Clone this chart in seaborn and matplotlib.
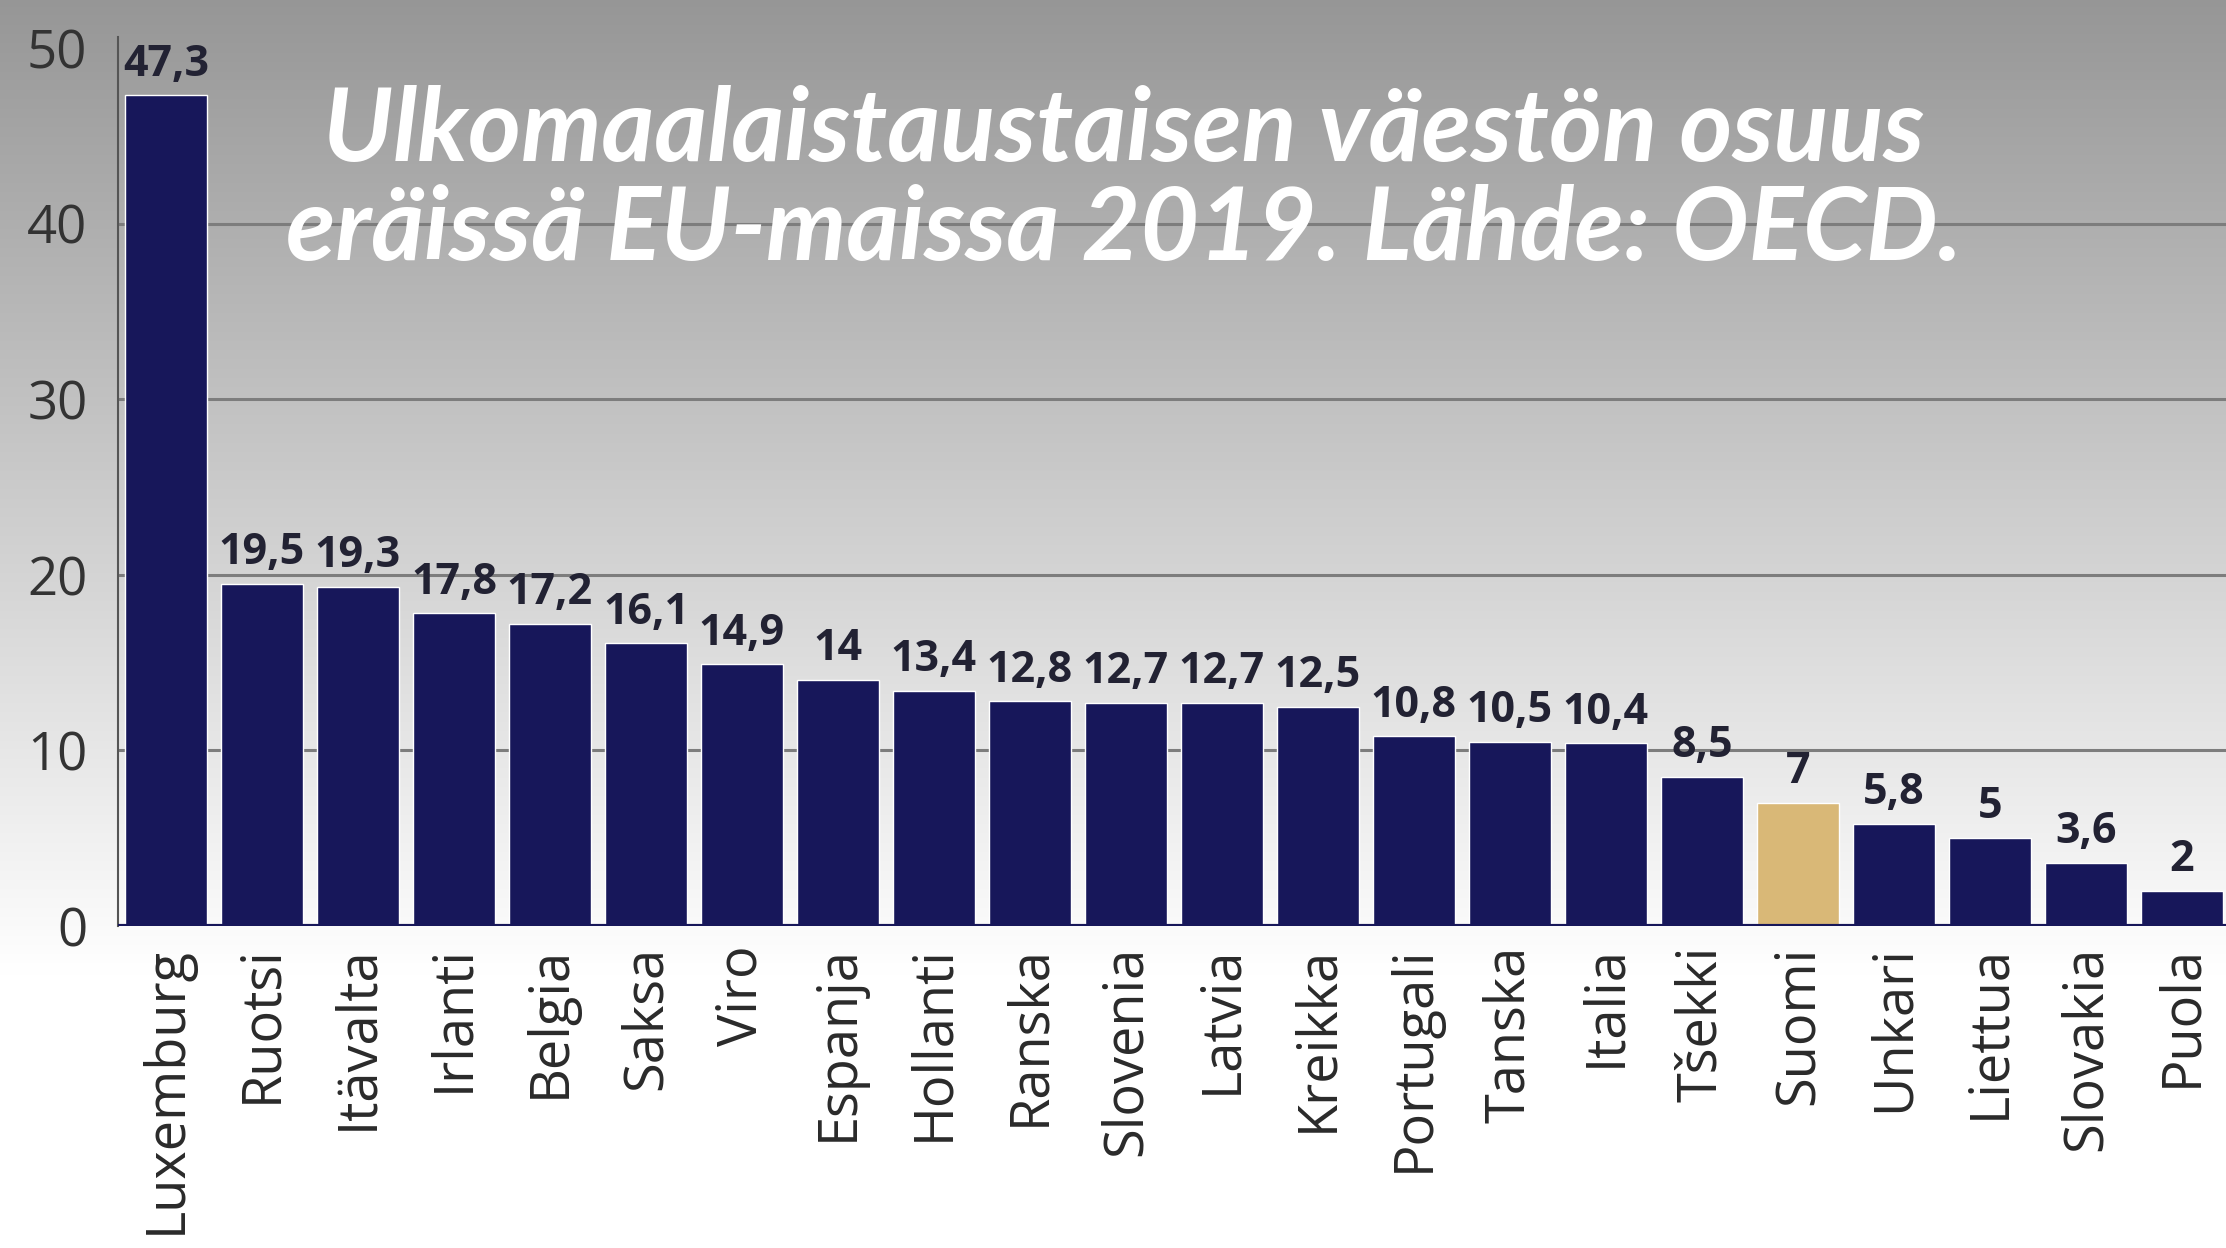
import numpy as np
import pandas as pd
import seaborn as sns
import matplotlib.pyplot as plt

# Data
countries = ['Luxemburg', 'Ruotsi', 'Itävalta', 'Irlanti', 'Belgia', 'Saksa', 'Viro',
             'Espanja', 'Hollanti', 'Ranska', 'Slovenia', 'Latvia', 'Kreikka', 'Portugali',
             'Tanska', 'Italia', 'Tšekki', 'Suomi', 'Unkari', 'Liettua', 'Slovakia', 'Puola']
shares = [47.3, 19.5, 19.3, 17.8, 17.2, 16.1, 14.9, 14, 13.4, 12.8, 12.7, 12.7, 12.5, 10.8,
          10.5, 10.4, 8.5, 7, 5.8, 5, 3.6, 2]
y_ticks = [0, 10, 20, 30, 40, 50]
highlight = 'Suomi'

navy = '#17175a'
tan = '#d9b877'

df = pd.DataFrame({'maa': countries, 'osuus': shares})
palette = {c: (tan if c == highlight else navy) for c in countries}

sns.set_style('white')
fig = plt.figure(figsize=(22.26, 12.48), dpi=100)

# gradient background (gray at top fading to white)
bg = fig.add_axes([0, 0, 1, 1], zorder=-10)
grad = np.clip(0.59 + 0.41 * np.linspace(0, 1, 500) / 0.78, 0, 1)
img = np.repeat(grad[:, None, None], 3, axis=2).repeat(4, axis=1)
bg.imshow(img, aspect='auto', extent=[0, 1, 0, 1], origin='upper')
bg.axis('off')

ax = fig.add_axes([0.053, 0.258, 0.947, 0.712])
ax.patch.set_alpha(0)

sns.barplot(data=df, x='maa', y='osuus', hue='maa', palette=palette, legend=False,
            width=0.85, edgecolor='white', linewidth=1, saturation=1, ax=ax, zorder=3)

ax.set_ylim(0, 50.6)
ax.set_xlim(-0.5, 21.46)
ax.set_yticks(y_ticks)
ax.set_yticklabels([str(t) for t in y_ticks], fontsize=38, color='#333333', family='Open Sans')
ax.tick_params(axis='y', length=0, pad=22)
ax.tick_params(axis='x', length=0, pad=14)
ax.set_xticks(range(len(countries)))
ax.set_xticklabels(countries, rotation=90, fontsize=39, color='#2a2a2a', family='Open Sans')
ax.set_xlabel('')
ax.set_ylabel('')

for t in y_ticks[1:-1]:
    ax.axhline(t, color='#7d7d7d', linewidth=2.2, zorder=1)
ax.axhline(0, color=navy, linewidth=3, zorder=4)

for side in ['top', 'right', 'bottom']:
    ax.spines[side].set_visible(False)
ax.spines['left'].set_color('#555555')
ax.spines['left'].set_linewidth(1.5)

for i, v in enumerate(shares):
    label = f'{v:g}'.replace('.', ',')
    ax.annotate(label, (i, v), xytext=(0, 7), textcoords='offset points',
                ha='center', va='bottom', fontsize=31, fontweight='bold',
                color='#222233', family='Open Sans')

fig.text(0.505, 0.895, 'Ulkomaalaistaustaisen väestön osuus',
         ha='center', va='center', color='white', fontsize=73,
         fontstyle='italic', fontweight='bold', family='Lato')
fig.text(0.505, 0.815, 'eräissä EU-maissa 2019. Lähde: OECD.',
         ha='center', va='center', color='white', fontsize=73,
         fontstyle='italic', fontweight='bold', family='Lato')

fig.savefig('out.png', dpi=100)
